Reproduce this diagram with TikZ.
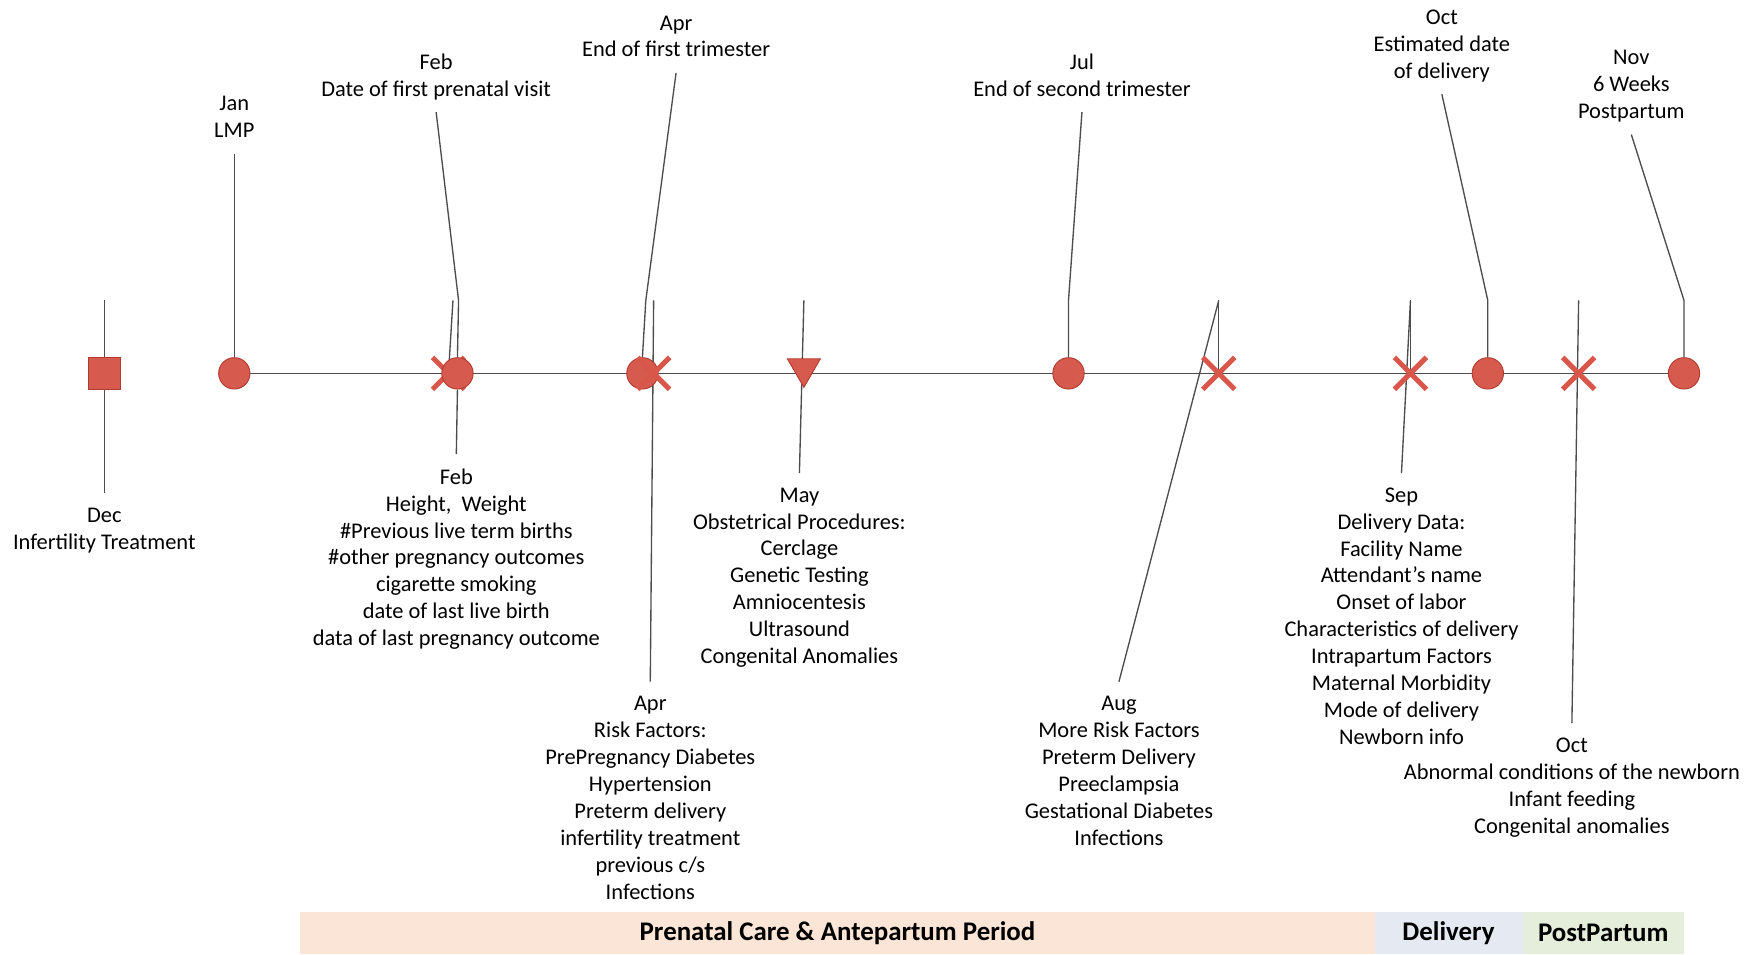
\documentclass[tikz,border=0pt]{standalone}
\usepackage{fontspec}
\setmainfont{Carlito}
\usetikzlibrary{shapes.geometric,shapes.misc,backgrounds}
\definecolor{mkred}{HTML}{D65A4E}
\definecolor{mkdark}{HTML}{B03A2E}
\definecolor{xred}{HTML}{D9574A}
\definecolor{lineg}{HTML}{4D4D4D}
\definecolor{prenc}{HTML}{FBE5D6}
\definecolor{delc}{HTML}{E4E9F2}
\definecolor{postc}{HTML}{E5EEDB}
\begin{document}
\begin{tikzpicture}[x=1pt,y=-1pt,
 conn/.style={draw=lineg, line width=1.2pt},
 dot/.style={circle, fill=mkred, draw=mkdark, line width=0.8pt, minimum size=28pt, inner sep=0pt},
 sqm/.style={rectangle, fill=mkred, draw=mkdark, line width=0.8pt, minimum size=28pt, inner sep=0pt},
 xm/.style={cross out, draw=xred, line width=4.5pt, minimum size=24pt, inner sep=0pt},
 trim/.style={regular polygon, regular polygon sides=3, shape border rotate=180, fill=mkred, draw=mkdark, line width=0.8pt, minimum size=34pt, inner sep=0pt},
 lab/.style={align=center, font=\fontsize{20}{24}\selectfont, inner sep=0pt, execute at begin node=\strut, execute at end node=\strut},
 tlab/.style={lab, anchor=south, outer sep=7pt},
 blab/.style={lab, anchor=north, outer sep=13pt},
 band/.style={rectangle, inner sep=0pt, minimum height=38pt, font=\fontsize{24}{26}\selectfont\bfseries}
]
\useasboundingbox (0,0) rectangle (1568,851);

% bands
\node[band, fill=prenc, minimum width=958pt] (pren) at (747,832) {Prenatal Care \& Antepartum Period};
\node[band, fill=delc, minimum width=132pt] (deliv) at (1292,832) {Delivery};
\node[band, fill=postc, minimum width=144pt] (postp) at (1430,832) {PostPartum};

% top labels
\node[tlab] (janl) at (209,137) {Jan\\LMP};
\node[tlab] (febtl) at (389,100) {Feb\\Date of first prenatal visit};
\node[tlab] (aprtl) at (603,65) {Apr\\End of first trimester};
\node[tlab] (jultl) at (965,100) {Jul\\End of second trimester};
\node[tlab] (octtl) at (1286,84) {Oct\\Estimated date\\of delivery};
\node[tlab] (novtl) at (1455,120) {Nov\\6 Weeks\\Postpartum};

% bottom labels
\node[blab] (decl) at (93,440) {Dec\\Infertility Treatment};
\node[blab] (febbl) at (407,405) {Feb\\Height, \ Weight\\\#Previous live term births\\\#other pregnancy outcomes\\cigarette smoking\\date of last live birth\\data of last pregnancy outcome};
\node[blab] (aprbl) at (580,608) {Apr\\Risk Factors:\\PrePregnancy Diabetes\\Hypertension\\Preterm delivery\\infertility treatment\\previous c/s\\Infections};
\node[blab] (maybl) at (713,422) {May\\Obstetrical Procedures:\\Cerclage\\Genetic Testing\\Amniocentesis\\Ultrasound\\Congenital Anomalies};
\node[blab] (augbl) at (998,608) {Aug\\More Risk Factors\\Preterm Delivery\\Preeclampsia\\Gestational Diabetes\\Infections};
\node[blab] (sepbl) at (1250,422) {Sep\\Delivery Data:\\Facility Name\\Attendant’s name\\Onset of labor\\Characteristics of delivery\\Intrapartum Factors\\Maternal Morbidity\\Mode of delivery\\Newborn info};
\node[blab] (octbl) at (1402,645) {Oct\\Abnormal conditions of the newborn\\Infant feeding\\Congenital anomalies};

% markers
\node[sqm] (decm) at (93,333) {};
\node[dot] (janm) at (209,333) {};
\node[xm] (febx) at (400,333) {};
\node[dot] (febm) at (408,333) {};
\node[dot] (aprm) at (573,333) {};
\node[xm] (aprx) at (583,333) {};
\node[trim] (maym) at (717,328.5) {};
\node[dot] (julm) at (953,333) {};
\node[xm] (augx) at (1087,333) {};
\node[xm] (sepx) at (1258,333) {};
\node[dot] (octm) at (1327,333) {};
\node[xm] (octx) at (1408,333) {};
\node[dot] (novm) at (1502,333) {};

% elbows
\coordinate (dece) at (93,268);
\coordinate (febe) at (409,268);
\coordinate (febxe) at (404,268);
\coordinate (apre) at (576,268);
\coordinate (aprxe) at (583,268);
\coordinate (maye) at (717,268);
\coordinate (jule) at (953,268);
\coordinate (auge) at (1087,268);
\coordinate (sepe) at (1258,268);
\coordinate (octe) at (1327,268);
\coordinate (octxe) at (1408,268);
\coordinate (nove) at (1502,268);

\begin{pgfonlayer}{background}
\draw[conn] (janm.center) -- (novm.center);
\draw[conn] (dece) -- (decl.north);
\draw[conn] (janl.south) -- (janm.north);
\draw[conn] (febtl.south) -- (febe) -- (febm.north);
\draw[conn] (febxe) -- (febx.center);
\draw[conn] (febm.south) -- (febbl.north);
\draw[conn] (aprtl.south) -- (apre) -- (aprm.north);
\draw[conn] (aprxe) -- (aprbl.north);
\draw[conn] (maye) -- (maybl.north);
\draw[conn] (jultl.south) -- (jule) -- (julm.north);
\draw[conn] (auge) -- (augx.center);
\draw[conn] (auge) -- (augbl.north);
\draw[conn] (sepe) -- (sepx.center);
\draw[conn] (sepe) -- (sepbl.north);
\draw[conn] (octtl.south) -- (octe) -- (octm.north);
\draw[conn] (octxe) -- (octbl.north);
\draw[conn] (novtl.south) -- (nove) -- (novm.north);
\end{pgfonlayer}
\end{tikzpicture}
\end{document}
